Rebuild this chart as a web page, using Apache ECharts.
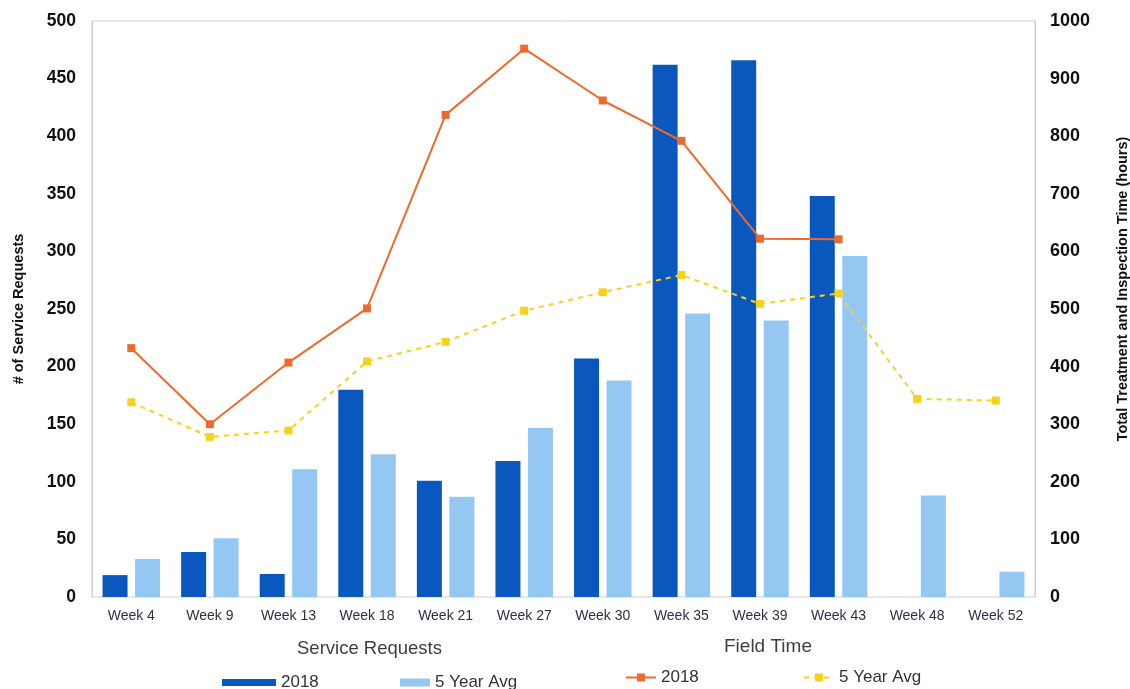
<!DOCTYPE html>
<html>
<head>
<meta charset="utf-8">
<script src="https://cdn.jsdelivr.net/npm/echarts@6/dist/echarts.min.js"></script>
<style>
  html, body { margin: 0; padding: 0; background: #fff; }
  #chart { width: 1130px; height: 689px; }
</style>
</head>
<body>
<div id="chart"></div>
<script>
const weeks = ['Week 4', 'Week 9', 'Week 13', 'Week 18', 'Week 21', 'Week 27', 'Week 30', 'Week 35', 'Week 39', 'Week 43', 'Week 48', 'Week 52']

// service requests (left axis)
const requests2018 = [19, 39, 20, 180, 101, 118, 207, 462, 466, 348, null, null]
const requestsAvg = [33, 51, 111, 124, 87, 147, 188, 246, 240, 296, 88, 22]

// field time in hours (right axis)
const fieldTime2018 = [432, 300, 407, 501, 837, 952, 862, 792, 622, 621, null, null]
const fieldTimeAvg = [338, 278, 289, 409, 443, 497, 529, 559, 509, 527, 344, 341]

const leftTicks = { min: 0, max: 500, interval: 50 }
const rightTicks = { min: 0, max: 1000, interval: 100 }

const font = 'Liberation Sans, Arial, sans-serif'
const darkBlue = '#0a58bd'
const lightBlue = '#94c8f2'
const orange = '#ee6a2c'
const yellow = '#f7d21c'

const chart = echarts.init(document.getElementById('chart'))

const legendText = { fontFamily: font, fontSize: 17, color: '#333' }
const stripTag = name => name.split('|')[0]

const option = {
  animation: false,
  textStyle: { fontFamily: font },
  grid: {
    left: 92, right: 95, top: 21, bottom: 92,
    outerBoundsMode: 'none', containLabel: false,
    show: true, borderColor: '#cfcfcf', borderWidth: 1
  },
  legend: [
    { data: ['2018|sr'], left: 222, top: 674, padding: 0, icon: 'rect', itemWidth: 54, itemHeight: 7, itemGap: 4, formatter: stripTag, textStyle: legendText },
    { data: ['5 Year Avg|sr'], left: 400, top: 674, padding: 0, icon: 'rect', itemWidth: 30, itemHeight: 8, formatter: stripTag, textStyle: legendText },
    { data: ['2018|ft'], left: 625, top: 669, padding: 0, itemWidth: 30, itemHeight: 10, formatter: stripTag, textStyle: legendText },
    { data: ['5 Year Avg|ft'], left: 803, top: 669, padding: 0, itemWidth: 30, itemHeight: 10, formatter: stripTag, textStyle: legendText }
  ],
  graphic: [
    { type: 'text', left: 297, top: 639, style: { text: 'Service Requests', fontFamily: font, fontSize: 18.5, fill: '#3d3d48' } },
    { type: 'text', left: 724, top: 637, style: { text: 'Field Time', fontFamily: font, fontSize: 19, fill: '#3d3d48' } }
  ],
  xAxis: {
    type: 'category',
    data: weeks,
    axisLine: { show: false },
    axisTick: { show: false },
    axisLabel: { margin: 12, fontSize: 14, color: '#2f3048' }
  },
  yAxis: [
    {
      type: 'value',
      min: leftTicks.min, max: leftTicks.max, interval: leftTicks.interval,
      name: '# of Service Requests',
      nameLocation: 'middle', nameRotate: 90, nameGap: 66,
      nameTextStyle: { fontSize: 14.5, fontWeight: 'bold', color: '#111' },
      axisLine: { show: true, lineStyle: { color: '#cfcfcf' } },
      axisTick: { show: false },
      splitLine: { show: false },
      axisLabel: { margin: 16, fontSize: 17.5, fontWeight: 'bold', color: '#111' }
    },
    {
      type: 'value',
      min: rightTicks.min, max: rightTicks.max, interval: rightTicks.interval,
      name: 'Total Treatment and Inspection Time (hours)',
      nameLocation: 'middle', nameRotate: 90, nameGap: 80,
      nameTextStyle: { fontSize: 14.5, fontWeight: 'bold', color: '#111', padding: [0, 0, 0, 40] },
      axisLine: { show: true, lineStyle: { color: '#cfcfcf' } },
      axisTick: { show: false },
      splitLine: { show: false },
      axisLabel: { margin: 15, fontSize: 18, fontWeight: 'bold', color: '#111', formatter: v => String(v) }
    }
  ],
  series: [
    {
      name: '2018|sr', type: 'bar', yAxisIndex: 0, data: requests2018,
      barWidth: 25, barGap: '30%', itemStyle: { color: darkBlue }
    },
    {
      name: '5 Year Avg|sr', type: 'bar', yAxisIndex: 0, data: requestsAvg,
      barWidth: 25, barGap: '30%', itemStyle: { color: lightBlue }
    },
    {
      name: '2018|ft', type: 'line', yAxisIndex: 1, data: fieldTime2018,
      symbol: 'rect', symbolSize: 8,
      lineStyle: { color: orange, width: 2 }, itemStyle: { color: orange }
    },
    {
      name: '5 Year Avg|ft', type: 'line', yAxisIndex: 1, data: fieldTimeAvg,
      symbol: 'rect', symbolSize: 8,
      lineStyle: { color: yellow, width: 2, type: [5, 5] }, itemStyle: { color: yellow }
    }
  ]
}

chart.setOption(option)
</script>
</body>
</html>
